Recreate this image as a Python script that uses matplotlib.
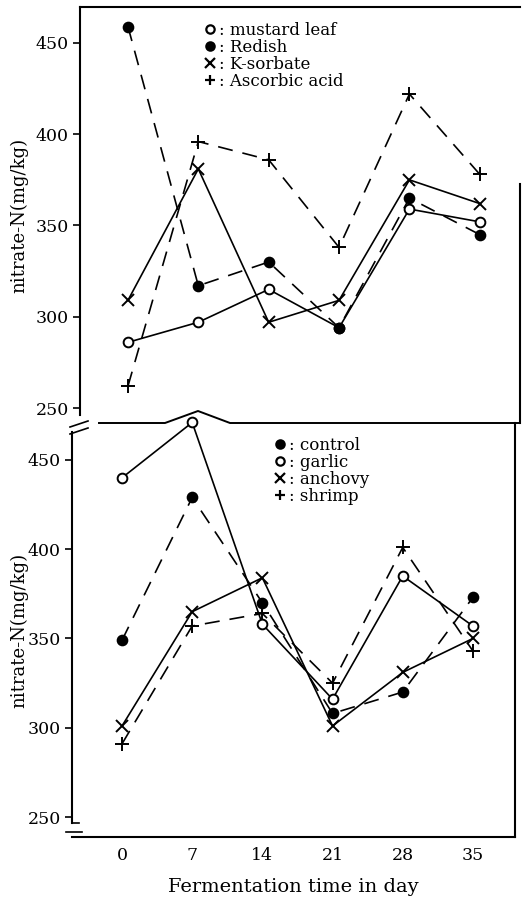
import numpy as np
import matplotlib.pyplot as plt
from matplotlib.lines import Line2D

plt.rcParams['font.family'] = 'DejaVu Serif'

days = [0, 7, 14, 21, 28, 35]

# upper panel
mustard_leaf = [286, 297, 315, 294, 359, 352]
redish = [459, 317, 330, 294, 365, 345]
k_sorbate = [309, 381, 297, 309, 375, 362]
ascorbic_acid = [262, 396, 386, 338, 422, 378]

# lower panel
control = [349, 429, 370, 308, 320, 373]
garlic = [440, 471, 358, 316, 385, 357]
anchovy = [301, 365, 384, 301, 331, 350]
shrimp = [291, 357, 364, 325, 401, 343]

yticks = [250, 300, 350, 400, 450]
W, H = 523, 900


def fx(px):
    return px / W


def fy(py):
    return 1 - py / H


fig = plt.figure(figsize=(W / 100, H / 100), dpi=100)
ax1 = fig.add_axes([fx(80), fy(423), fx(520) - fx(80), fy(7) - fy(423)])
ax2 = fig.add_axes([fx(72), fy(837), fx(515) - fx(72), fy(423) - fy(837)])

dash = (0, (9, 6))
kw = dict(color='black', lw=1.2, clip_on=False)

def draw(ax, y, marker, ls, filled, ms=7, mew=1.4):
    ax.plot(days, y, linestyle=ls, marker=marker, ms=ms, mew=mew,
            mfc='black' if filled else 'white', mec='black', **kw)

# upper panel series
draw(ax1, mustard_leaf, 'o', '-', False)
draw(ax1, redish, 'o', dash, True)
draw(ax1, k_sorbate, 'x', '-', False, ms=8.5)
draw(ax1, ascorbic_acid, '+', dash, False, ms=10.5)

# lower panel series
draw(ax2, control, 'o', dash, True)
draw(ax2, garlic, 'o', '-', False)
draw(ax2, anchovy, 'x', '-', False, ms=8.5)
draw(ax2, shrimp, '+', dash, False, ms=10.5)

ax1.set_xlim(-4.77, 39.0)
ax1.set_ylim(241.8, 469.7)
ax2.set_xlim(-4.99, 39.2)
ax2.set_ylim(238.8, 470.7)

for ax, lx in ((ax1, -0.118), (ax2, -0.099)):
    ax.set_yticks(yticks)
    ax.tick_params(axis='y', direction='out', length=5, width=1.2,
                   pad=3, labelsize=12.5)
    ax.set_ylabel('nitrate-N(mg/kg)', fontsize=13)
    ax.yaxis.set_label_coords(lx, 0.5)
    for s in ax.spines.values():
        s.set_linewidth(1.5)

ax1.set_xticks([])
ax1.spines['bottom'].set_visible(False)
ax1.spines['left'].set_bounds(246.2, 469.7)
ax1.spines['right'].set_bounds(241.8, 373)

ax2.spines['top'].set_visible(False)
ax2.spines['left'].set_bounds(246.6, 465.7)
ax2.set_xticks(days)
ax2.tick_params(axis='x', length=0, pad=7, labelsize=12.5)
ax2.set_xlabel('Fermentation time in day', fontsize=14, labelpad=10)

# boundary between panels, with the bump over the garlic peak
fig.add_artist(Line2D([fx(99), fx(165), fx(198), fx(230), fx(520)],
                      [fy(423), fy(423), fy(411), fy(423), fy(423)],
                      color='black', lw=1.4))
# axis break marks
for dy in (0, 7):
    fig.add_artist(Line2D([fx(70), fx(88)], [fy(427 + dy), fy(421 + dy)],
                          color='black', lw=1.2))
fig.add_artist(Line2D([fx(72), fx(79)], [fy(823), fy(823)],
                      color='black', lw=1.2))
fig.add_artist(Line2D([fx(66), fx(82)], [fy(832), fy(832)],
                      color='black', lw=1.2))

# legends
def legend(ax, labels, markers, fills, pos):
    handles = [Line2D([], [], ls='none', marker=m, color='black', ms=6 if m == 'o' else 7,
                      mew=1.6, mfc='black' if f else 'white', mec='black')
               for m, f in zip(markers, fills)]
    ax.legend(handles, [': ' + t for t in labels], loc='upper left',
              bbox_to_anchor=(fx(pos[0]), fy(pos[1])), bbox_transform=fig.transFigure,
              frameon=False, fontsize=12, handlelength=0.6, handletextpad=0.25,
              labelspacing=0.0, borderpad=0, borderaxespad=0)

legend(ax1, ['mustard leaf', 'Redish', 'K-sorbate', 'Ascorbic acid'],
       ['o', 'o', 'x', '+'], [False, True, False, False], (205, 22))
legend(ax2, ['control', 'garlic', 'anchovy', 'shrimp'],
       ['o', 'o', 'x', '+'], [True, False, False, False], (275, 437))

fig.savefig('out.png', dpi=100)
